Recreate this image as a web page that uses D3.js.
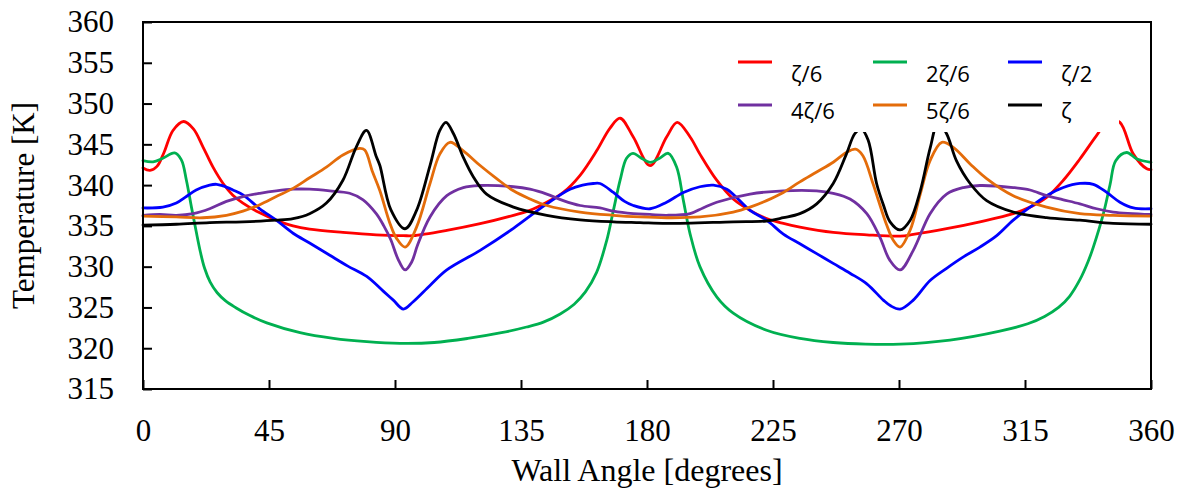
<!DOCTYPE html>
<html>
<head>
<meta charset="utf-8">
<script src="https://cdn.jsdelivr.net/npm/d3@7"></script>
<style>
  html, body { margin: 0; padding: 0; background: #fff; }
  svg { display: block; }
</style>
</head>
<body>
<svg id="chart" width="1185" height="492"></svg>
<script>
// Wall temperature around the circumference for six axial positions.
// Each series is a list of [wall angle (deg), temperature (K)] pairs.
const zeta1of6 = [
  [0,342.1],[2.5,341.8],[5,342.3],[7.5,344.0],[10.7,346.7],[14.5,347.8],[18,346.9],[21.4,344.7],
  [25,342.2],[28.6,340.2],[32,338.8],[35.7,337.8],[41.7,336.6],[47.6,335.7],[53.6,335.0],
  [59.5,334.6],[71.4,334.2],[83.3,333.9],[93,333.8],[96.5,333.8],[108.5,334.45],[120.4,335.27],
  [132.3,336.3],[138.2,336.9],[144.2,337.9],[150.1,339.1],[156.1,341.2],[162,344.2],[166.8,347.0],
  [170.4,348.2],[175.1,345.9],[181.1,342.4],[187,345.9],[190.8,347.7],[195.4,345.9],[198.9,343.8],
  [204.9,340.6],[210.8,338.3],[216.8,336.9],[222.7,335.9],[228.7,335.3],[234.6,334.85],[246.5,334.2],
  [258.5,333.9],[270.4,333.75],[275.1,333.95],[287,334.65],[298.9,335.5],[310.8,336.5],[316.8,337.3],
  [322.7,338.5],[328.7,340.6],[334.6,343.2],[340.6,346.1],[345,348.0],[348.9,347.7],[353.7,343.8],
  [358.5,342.0],[360,341.9]
];
const zeta2of6 = [
  [0,343.0],[3.6,342.85],[7.1,343.3],[11.3,343.95],[13.7,343.1],[15.5,340.6],[17.3,337.3],[19,334.3],
  [20.5,331.8],[22,329.8],[24,328.1],[26.5,326.8],[29.5,325.8],[33,325.0],[38.2,324.0],[44.2,323.1],
  [56.1,321.9],[68,321.2],[79.9,320.8],[91.8,320.6],[104,320.7],[116,321.2],[128,321.9],[137,322.6],
  [143,323.2],[149,324.2],[154,325.4],[158,326.9],[162,329.3],[165.6,333.2],[168,336.9],[170.4,340.6],
  [172.7,343.3],[175,343.9],[178,343.3],[181.1,342.8],[184.5,343.3],[187.6,343.9],[190.6,342.2],
  [193,338.1],[195.4,334.0],[198.9,330.0],[204.9,326.3],[210.8,324.3],[222.7,322.2],[234.6,321.2],
  [246.5,320.7],[258,320.5],[270.4,320.5],[288.2,321.0],[306,322.1],[316,323.0],[322,323.9],
  [327,325.0],[331,326.4],[334.6,328.4],[337.5,330.6],[339.4,332.4],[343,336.5],[345.4,340.1],
  [347.4,343.0],[351.3,344.0],[355,343.2],[360,342.8]
];
const zetaHalf = [
  [0,337.2],[7.1,337.3],[11.9,337.8],[15.5,338.6],[19,339.4],[23.8,340.0],[26.3,340.1],[28.6,339.9],
  [32.1,339.4],[35.7,338.8],[41.7,337.1],[47.6,335.7],[53.6,334.1],[59.5,332.9],[66.7,331.4],
  [73,330.1],[79.9,328.8],[85.8,327.0],[89.4,325.9],[93,324.8],[96.5,325.7],[102.5,327.7],
  [108.5,329.6],[120.4,332.0],[132.3,334.7],[144.2,337.7],[152.5,339.5],[157,340.0],[160.8,340.2],
  [163.2,340.2],[168,339.1],[172,338.0],[175.1,337.5],[181.1,337.1],[187,337.9],[193,339.1],
  [198.9,339.8],[203.7,340.0],[208.5,339.5],[216.8,336.9],[222.7,335.7],[228.7,334.0],[234.6,332.8],
  [240.6,331.6],[246.5,330.4],[252.5,329.2],[258.5,327.9],[264.4,325.9],[267,325.2],[270.4,324.8],
  [275.1,325.9],[281.1,328.3],[287,329.8],[293,331.2],[298.9,332.4],[304.9,333.8],[310.8,335.7],
  [316.8,337.3],[322.7,338.7],[328.7,339.7],[334.6,340.2],[339.4,340.1],[344.2,339.1],[348.9,337.9],
  [353.7,337.2],[360,337.1]
];
const zeta4of6 = [
  [0,336.3],[6,336.4],[11.9,336.3],[17.9,336.5],[23.8,337.1],[29.8,338.0],[35.7,338.6],[41.7,339.0],
  [47.6,339.3],[53.6,339.5],[59.5,339.5],[66.7,339.3],[73.8,339.0],[78.6,338.2],[83.3,336.5],
  [86,335.0],[88.5,333.3],[91,331.0],[93.6,329.6],[96,330.6],[98,332.6],[102.5,336.1],[108.5,338.7],
  [114.4,339.7],[120.4,339.95],[132.3,339.8],[138.2,339.5],[144.2,338.9],[150.1,338.1],[156.1,337.5],
  [163.2,337.2],[168,336.8],[175.1,336.5],[181,336.4],[187,336.3],[195.4,336.5],[200,337.2],
  [204.9,337.9],[216.8,338.9],[228.7,339.3],[240.6,339.3],[246.5,339.0],[252.5,338.3],[258.5,336.5],
  [263.2,333.6],[266.7,330.8],[270.4,329.6],[275.1,332.0],[281.1,336.5],[287,338.9],[293,339.7],
  [298.9,339.95],[310.8,339.7],[316.8,339.4],[322.7,338.7],[328.7,338.2],[334.6,337.7],[340.6,337.1],
  [346.5,336.7],[360,336.4]
];
const zeta5of6 = [
  [0,336.2],[11.9,336.1],[21.4,336.0],[29.8,336.3],[35.7,336.8],[41.7,337.6],[47.6,338.6],[53.6,339.6],
  [59.5,340.9],[65.5,342.2],[71.4,343.7],[77.4,344.5],[79.2,344.3],[82,341.6],[84.6,339.3],
  [88.2,335.3],[90.5,333.5],[93.6,332.4],[97.7,334.85],[102.5,340.2],[106,343.8],[109.6,345.25],
  [114.4,344.2],[120.4,342.4],[126.3,340.8],[132.3,339.3],[138.2,338.3],[144.2,337.5],[156.1,336.7],
  [168,336.3],[177.5,336.1],[187,336.0],[198.9,336.1],[210.8,336.7],[216.8,337.3],[222.7,338.1],
  [228.7,339.1],[234.6,340.4],[240.6,341.6],[246.5,342.8],[251.2,344.0],[254.5,344.4],[257.1,343.6],
  [260.7,340.2],[262.5,338.3],[265.5,335.2],[268,333.2],[270.4,332.4],[274,334.5],[277.6,338.9],
  [281.1,343.0],[285.3,345.25],[289.5,344.6],[295.4,342.6],[301.3,340.8],[310.8,338.7],[322.7,337.3],
  [334.6,336.5],[346.5,336.3],[360,336.2]
];
const zetaFull = [
  [0,335.1],[11.9,335.2],[23.8,335.4],[35.7,335.5],[47.6,335.7],[53.6,335.9],[59.5,336.5],[65.5,337.8],
  [71.4,340.6],[76.2,344.7],[79.8,346.7],[83.3,343.5],[84.6,342.4],[88.5,337.0],[93.6,334.65],
  [97.7,336.9],[102.5,342.4],[106,346.7],[108.2,347.7],[110.9,346.3],[114.4,343.4],[118,341.0],
  [122.7,338.9],[132.3,337.3],[144.2,336.3],[156.1,335.75],[168,335.5],[177.5,335.4],[187,335.3],
  [210.8,335.5],[222.7,335.6],[228.7,336.0],[234.6,336.5],[240.6,337.7],[246.5,340.2],[251.2,343.8],
  [254.2,346.3],[256.5,346.9],[259,345.5],[262,340.2],[264.5,337.5],[266.8,335.5],[270.4,334.5],
  [274,335.7],[277.6,339.3],[281.1,344.5],[284,347.7],[287,346.3],[290.5,343.0],[295.4,340.2],
  [301.3,338.1],[310.8,336.7],[322.7,336.0],[334.6,335.7],[346.5,335.3],[360,335.2]
];

const seriesNames = ["ζ/6", "2ζ/6", "ζ/2", "4ζ/6", "5ζ/6", "ζ"];
const seriesData = [zeta1of6, zeta2of6, zetaHalf, zeta4of6, zeta5of6, zetaFull];
const seriesColors = ["#FF0000", "#00B050", "#0000FF", "#7030A0", "#E46C0A", "#000000"];

const xTicks = [0, 45, 90, 135, 180, 225, 270, 315, 360];
const yTicks = [315, 320, 325, 330, 335, 340, 345, 350, 355, 360];

const svg = d3.select("#chart");
const plot = { left: 143, right: 1151, top: 22, bottom: 389 };

const x = d3.scaleLinear().domain([0, 360]).range([plot.left, plot.right]);
const y = d3.scaleLinear().domain([315, 360]).range([plot.bottom, plot.top]);

const serif = "'Liberation Serif', 'Times New Roman', serif";
const sans = "'Open Sans', 'Noto Sans', sans-serif";

// curves, smoothed through the sampled points
const line = d3.line()
  .x(d => x(d[0]))
  .y(d => y(d[1]))
  .curve(d3.curveCatmullRom.alpha(0.5));

svg.append("g")
  .selectAll("path")
  .data(seriesData)
  .join("path")
  .attr("d", line)
  .attr("fill", "none")
  .attr("stroke", (d, i) => seriesColors[i])
  .attr("stroke-width", 2.8)
  .attr("stroke-linejoin", "round")
  .attr("stroke-linecap", "round");

// legend panel sits on top of the curves
const legend = svg.append("g");
legend.append("rect")
  .attr("x", 722).attr("y", 36)
  .attr("width", 1119 - 722).attr("height", 132 - 36)
  .attr("fill", "#fff");

const legCols = [738, 873, 1008];
const legRows = [{ line: 62, text: 82 }, { line: 105, text: 118.5 }];
seriesNames.forEach((name, i) => {
  const cx = legCols[i % 3];
  const row = legRows[Math.floor(i / 3)];
  legend.append("line")
    .attr("x1", cx).attr("x2", cx + 34)
    .attr("y1", row.line).attr("y2", row.line)
    .attr("stroke", seriesColors[i])
    .attr("stroke-width", 2.8);
  legend.append("text")
    .attr("x", cx + 53).attr("y", row.text)
    .attr("font-family", sans)
    .attr("font-size", 22)
    .attr("fill", "#000")
    .text(name);
});

// axes with inward ticks
const yAxis = d3.axisLeft(y).tickValues(yTicks).tickSizeInner(-9).tickSizeOuter(0).tickPadding(29);
const xAxis = d3.axisBottom(x).tickValues(xTicks).tickSizeInner(-9).tickSizeOuter(0).tickPadding(30);

const gy = svg.append("g").attr("transform", `translate(${plot.left},0)`).call(yAxis);
const gx = svg.append("g").attr("transform", `translate(0,${plot.bottom})`).call(xAxis);

[gx, gy].forEach(g => {
  g.select(".domain").remove();
  g.selectAll(".tick line").attr("stroke", "#000").attr("stroke-width", 2);
  g.selectAll(".tick text")
    .attr("font-family", serif)
    .attr("font-size", 31)
    .attr("fill", "#000");
});

// plot frame
svg.append("rect")
  .attr("x", plot.left).attr("y", plot.top)
  .attr("width", plot.right - plot.left).attr("height", plot.bottom - plot.top)
  .attr("fill", "none")
  .attr("stroke", "#000")
  .attr("stroke-width", 2);

// axis titles
svg.append("text")
  .attr("x", (plot.left + plot.right) / 2).attr("y", 481)
  .attr("text-anchor", "middle")
  .attr("font-family", serif).attr("font-size", 32)
  .text("Wall Angle [degrees]");

svg.append("text")
  .attr("transform", `translate(34,${(plot.top + plot.bottom) / 2}) rotate(-90)`)
  .attr("text-anchor", "middle")
  .attr("font-family", serif).attr("font-size", 31)
  .text("Temperature [K]");
</script>
</body>
</html>
